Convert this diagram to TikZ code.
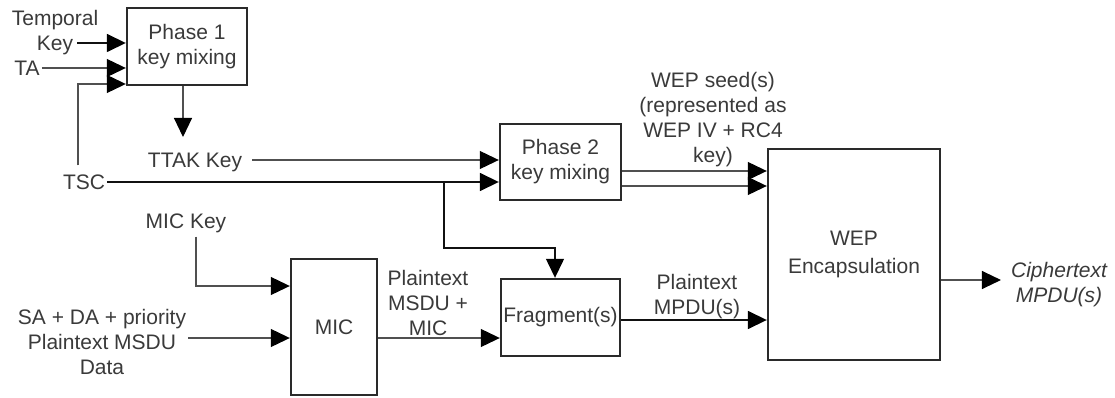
\documentclass[tikz,border=0pt]{standalone}
\usepackage{fontspec}
\setmainfont{Liberation Sans}
\usetikzlibrary{arrows.meta}
\definecolor{inkbox}{HTML}{2A2A2A}
\definecolor{inktext}{HTML}{3A3A3A}
\definecolor{inkline}{HTML}{505050}
\definecolor{inkdark}{HTML}{111111}
\begin{document}
\begin{tikzpicture}[x=1pt,y=-1pt,
  every node/.style={text=inktext, font=\fontsize{21}{25}\selectfont},
  blk/.style={draw=inkbox, line width=2.4pt, fill=white, align=center, inner sep=0pt},
  slbl/.style={align=center, inner sep=2pt, text height=15pt, text depth=0pt},
  mlbl/.style={align=center, inner sep=2pt},
  arr/.style={draw=inkline, line width=1.1pt, -{Triangle[length=19pt,width=18pt,color=black]}},
  arrdark/.style={draw=inkdark, line width=1.6pt, -{Triangle[length=19pt,width=18pt,color=black]}}]
\fill[white] (0,0) rectangle (1115,398);
\useasboundingbox (0,0) rectangle (1115,398);

% processing blocks
\node[blk, minimum width=120pt, minimum height=77pt] (p1) at (187,46.5) {Phase 1\\key mixing};
\node[blk, minimum width=121pt, minimum height=76pt] (p2) at (560.5,162) {Phase 2\\key mixing};
\node[blk, minimum width=86pt, minimum height=136pt] (mic) at (334,327) {MIC};
\node[blk, minimum width=119pt, minimum height=77pt] (frag) at (560.5,317.5) {Fragment(s)};
\node[blk, minimum width=172pt, minimum height=211pt, font=\fontsize{21}{28}\selectfont] (wep) at (854,254.5) {WEP\\Encapsulation};

% input and output labels
\node[mlbl] (temporal) at (55,32.5) {Temporal\\Key};
\node[slbl] (ta) at (27,68) {TA};
\node[slbl] (tsc) at (84,182) {TSC};
\node[slbl] (ttak) at (195,160) {TTAK Key};
\node[slbl] (mickey) at (186,221) {MIC Key};
\node[mlbl] (sa) at (102,342) {SA + DA + priority\\Plaintext MSDU\\Data};
\node[mlbl] (msdu) at (428,303) {Plaintext\\MSDU +\\MIC};
\node[mlbl] (mpdu) at (697,296.5) {Plaintext\\MPDU(s)};
\node[mlbl] (seed) at (713,119.5) {WEP seed(s)\\(represented as\\WEP IV + RC4\\key)};
\node[mlbl, font=\fontsize{21}{25}\selectfont\itshape] (cipher) at (1059,284.5) {Ciphertext\\MPDU(s)};

% phase 1 inputs
\coordinate (tk) at (77,43);
\draw[arrdark] (tk) -- (tk -| p1.west);
\draw[arr] (ta.east) -- (ta.east -| p1.west);
\coordinate (tscup) at (78,84);
\draw[arr] (tsc.north -| tscup) ++(0,-7) -- (tscup) -- (tscup -| p1.west);

% phase 1 output
\coordinate (ttakin) at (183,137);
\draw[arr] (ttakin |- p1.south) -- (ttakin);

% phase 2 inputs
\draw[arr] ([xshift=8pt]ttak.east) -- (ttak.east -| p2.west);
\draw[arrdark] (tsc.east) -- (tsc.east -| p2.west);

% TSC branch to fragmentation
\coordinate (brx) at (444,248);
\coordinate (brk) at (555,248);
\draw[arrdark, line width=1.3pt] (tsc.east -| brx) -- (brx) -- (brk) -- (brk |- frag.north);

% phase 2 outputs (WEP seed)
\coordinate (s1) at ([yshift=-9pt]p2.east);
\coordinate (s2) at ([yshift=-24pt]p2.east);
\draw[arr] (s1) -- (s1 -| wep.west);
\draw[arr] (s2) -- (s2 -| wep.west);

% MIC inputs
\coordinate (mkc) at (196,286);
\draw[arr] (mickey.south -| mkc) ++(0,6) -- (mkc) -- (mkc -| mic.west);
\coordinate (sain) at ([yshift=4pt]sa.east);
\draw[arr] (sain) -- (sain -| mic.west);

% MIC to fragmentation, fragmentation to WEP
\coordinate (mo) at ([yshift=-11pt]mic.east);
\draw[arr] (mo) -- (mo -| frag.west);
\coordinate (fo) at ([yshift=-2.5pt]frag.east);
\draw[arrdark] (fo) -- (fo -| wep.west);

% WEP output
\coordinate (wo) at ([yshift=-25.5pt]wep.east);
\coordinate (ce) at ([xshift=-8pt]cipher.west);
\draw[arr] (wo) -- (wo -| ce);
\end{tikzpicture}
\end{document}
